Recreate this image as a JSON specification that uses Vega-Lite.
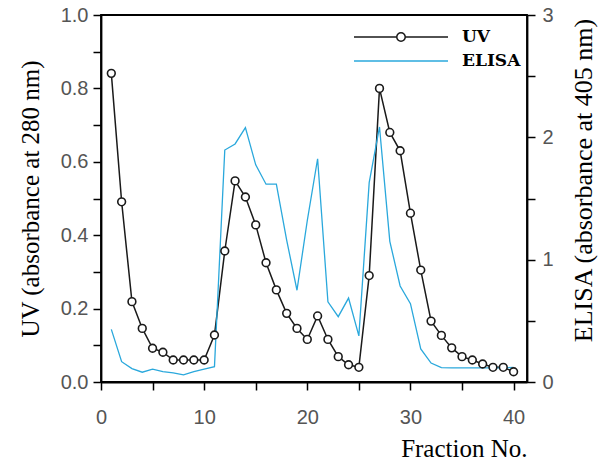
{
  "$schema": "https://vega.github.io/schema/vega-lite/v6.json",
  "width": 426,
  "height": 367,
  "autosize": {"type": "none"},
  "padding": {"left": 101, "top": 15, "right": 74, "bottom": 82},
  "background": "white",
  "config": {
    "view": {"stroke": "#000000", "strokeWidth": 1.8},
    "axis": {
      "grid": false,
      "ticks": true,
      "tickSize": 8,
      "tickColor": "#000000",
      "tickWidth": 1.5,
      "domain": true,
      "domainColor": "#000000",
      "domainWidth": 1.8,
      "labelFont": "Liberation Sans",
      "labelFontSize": 20,
      "labelColor": "#555555",
      "labelOverlap": false,
      "labelFlush": false,
      "titleFont": "Liberation Serif",
      "titleFontSize": 25,
      "titleFontWeight": "normal",
      "titleColor": "#000000"
    }
  },
  "data": {
    "values": [
      {"fraction": 1, "UV": 0.841, "ELISA": 0.43},
      {"fraction": 2, "UV": 0.491, "ELISA": 0.166},
      {"fraction": 3, "UV": 0.219, "ELISA": 0.11},
      {"fraction": 4, "UV": 0.146, "ELISA": 0.08},
      {"fraction": 5, "UV": 0.092, "ELISA": 0.105},
      {"fraction": 6, "UV": 0.081, "ELISA": 0.085},
      {"fraction": 7, "UV": 0.06, "ELISA": 0.075},
      {"fraction": 8, "UV": 0.06, "ELISA": 0.058},
      {"fraction": 9, "UV": 0.06, "ELISA": 0.085},
      {"fraction": 10, "UV": 0.06, "ELISA": 0.105},
      {"fraction": 11, "UV": 0.128, "ELISA": 0.125},
      {"fraction": 12, "UV": 0.357, "ELISA": 1.896},
      {"fraction": 13, "UV": 0.548, "ELISA": 1.946},
      {"fraction": 14, "UV": 0.504, "ELISA": 2.079},
      {"fraction": 15, "UV": 0.428, "ELISA": 1.775},
      {"fraction": 16, "UV": 0.325, "ELISA": 1.617},
      {"fraction": 17, "UV": 0.251, "ELISA": 1.617},
      {"fraction": 18, "UV": 0.187, "ELISA": 1.16},
      {"fraction": 19, "UV": 0.146, "ELISA": 0.75},
      {"fraction": 20, "UV": 0.116, "ELISA": 1.32},
      {"fraction": 21, "UV": 0.18, "ELISA": 1.825},
      {"fraction": 22, "UV": 0.116, "ELISA": 0.655},
      {"fraction": 23, "UV": 0.069, "ELISA": 0.534},
      {"fraction": 24, "UV": 0.047, "ELISA": 0.686},
      {"fraction": 25, "UV": 0.04, "ELISA": 0.377},
      {"fraction": 26, "UV": 0.29, "ELISA": 1.63},
      {"fraction": 27, "UV": 0.8, "ELISA": 2.085},
      {"fraction": 28, "UV": 0.68, "ELISA": 1.15},
      {"fraction": 29, "UV": 0.63, "ELISA": 0.785},
      {"fraction": 30, "UV": 0.46, "ELISA": 0.64},
      {"fraction": 31, "UV": 0.305, "ELISA": 0.27},
      {"fraction": 32, "UV": 0.166, "ELISA": 0.155},
      {"fraction": 33, "UV": 0.127, "ELISA": 0.117},
      {"fraction": 34, "UV": 0.093, "ELISA": 0.115},
      {"fraction": 35, "UV": 0.069, "ELISA": 0.115},
      {"fraction": 36, "UV": 0.06, "ELISA": 0.115},
      {"fraction": 37, "UV": 0.049, "ELISA": 0.115},
      {"fraction": 38, "UV": 0.04, "ELISA": 0.115},
      {"fraction": 39, "UV": 0.04, "ELISA": 0.115},
      {"fraction": 40, "UV": 0.028, "ELISA": 0.12}
    ]
  },
  "encoding": {
    "x": {
      "field": "fraction",
      "type": "quantitative",
      "scale": {"domain": [0, 41.3], "nice": false, "zero": false},
      "axis": {
        "values": [0, 5, 10, 15, 20, 25, 30, 35, 40],
        "labelExpr": "datum.value % 10 === 0 ? datum.label : ''",
        "labelPadding": 17,
        "title": "Fraction No.",
        "titleAnchor": "end",
        "titleAlign": "right",
        "titlePadding": 9
      }
    }
  },
  "layer": [
    {
      "mark": {"type": "line", "strokeWidth": 1.5},
      "encoding": {
        "y": {
          "field": "UV",
          "type": "quantitative",
          "scale": {"domain": [0, 1], "nice": false},
          "axis": {
            "orient": "left",
            "values": [0, 0.1, 0.2, 0.3, 0.4, 0.5, 0.6, 0.7, 0.8, 0.9, 1.0],
            "labelExpr": "round(datum.value * 10) % 2 === 0 ? format(datum.value, '.1f') : ''",
            "labelPadding": 5,
            "title": "UV (absorbance at 280 nm)",
            "titlePadding": 17
          }
        },
        "color": {
          "datum": "UV",
          "scale": {"domain": ["UV"], "range": ["#1a1a1a"]},
          "legend": {
            "orient": "none",
            "legendX": 252,
            "legendY": -26,
            "title": null,
            "padding": 0,
            "symbolType": "M-1,0L-0.09,0M0.09,0L1,0M0.09,0A0.09,0.09,0,1,1,-0.09,0A0.09,0.09,0,1,1,0.09,0",
            "symbolSize": 8836,
            "symbolStrokeWidth": 1.5,
            "labelFont": "DejaVu Serif",
            "labelFontWeight": "bold",
            "labelFontSize": 17,
            "labelColor": "#000000",
            "labelOffset": 13,
            "encode": {"symbols": {"update": {"fill": {"value": "white"}, "stroke": {"value": "#1a1a1a"}, "strokeWidth": {"value": 1.5}}}}
          }
        }
      }
    },
    {
      "mark": {"type": "line", "strokeWidth": 1.3},
      "encoding": {
        "y": {
          "field": "ELISA",
          "type": "quantitative",
          "scale": {"domain": [0, 3], "nice": false},
          "axis": {
            "orient": "right",
            "values": [0, 0.5, 1, 1.5, 2, 2.5, 3],
            "labelExpr": "datum.value % 1 === 0 ? format(datum.value, 'd') : ''",
            "labelPadding": 7,
            "title": "ELISA (absorbance at 405 nm)",
            "titleFontSize": 26,
            "titleAngle": 270,
            "titleY": 165,
            "titlePadding": 43
          }
        },
        "stroke": {
          "datum": "ELISA",
          "scale": {"domain": ["ELISA"], "range": ["#2aa8dc"]},
          "legend": {
            "orient": "none",
            "legendX": 252,
            "legendY": -2,
            "title": null,
            "padding": 0,
            "symbolType": "M-1,0L1,0",
            "symbolSize": 8836,
            "symbolStrokeWidth": 1.5,
            "labelFont": "DejaVu Serif",
            "labelFontWeight": "bold",
            "labelFontSize": 17,
            "labelColor": "#000000",
            "labelOffset": 13
          }
        }
      }
    },
    {
      "mark": {"type": "point", "shape": "circle", "filled": true, "fill": "white", "stroke": "#1a1a1a", "strokeWidth": 1.6, "size": 60, "opacity": 1},
      "encoding": {
        "y": {
          "field": "UV",
          "type": "quantitative",
          "scale": {"domain": [0, 1], "nice": false},
          "axis": null
        }
      }
    }
  ],
  "resolve": {"scale": {"y": "independent"}}
}
